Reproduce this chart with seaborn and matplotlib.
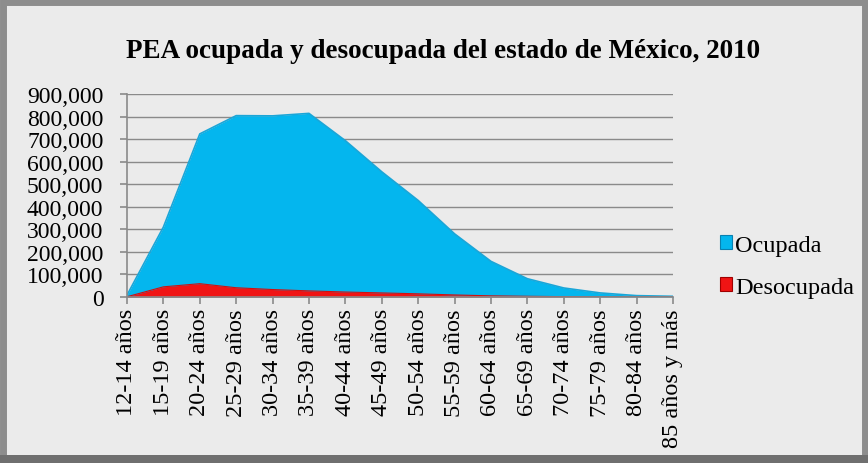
import numpy as np
import pandas as pd
import matplotlib
matplotlib.use("Agg")
import matplotlib.pyplot as plt
import matplotlib.patches as mpatches
from matplotlib.ticker import FuncFormatter
import seaborn as sns

# ----------------------------------------------------------------------
# Datos
# ----------------------------------------------------------------------
grupos = ["12-14 años", "15-19 años", "20-24 años", "25-29 años", "30-34 años",
          "35-39 años", "40-44 años", "45-49 años", "50-54 años", "55-59 años",
          "60-64 años", "65-69 años", "70-74 años", "75-79 años", "80-84 años",
          "85 años y más"]
ocupada = [8000, 310000, 723000, 804000, 803000, 814000, 693000, 555000,
           428000, 280000, 158000, 81000, 40000, 18000, 6000, 3000]
desocupada = [1000, 45000, 59000, 41000, 33000, 27000, 22000, 18000,
              14000, 9000, 5000, 3000, 1500, 600, 200, 100]

df = pd.DataFrame({"grupo": grupos, "Ocupada": ocupada, "Desocupada": desocupada})
df["pos"] = np.arange(len(df))

AZUL = "#04b6ee"
ROJO = "#f01414"
FONDO = "#ebebeb"

sns.set_theme(style="white")
plt.rcParams["font.family"] = ["Liberation Serif", "DejaVu Serif"]
plt.rcParams["text.color"] = "black"

fig = plt.figure(figsize=(8.68, 4.64), dpi=100)
fig.patch.set_facecolor(FONDO)
ax = fig.add_axes([0.1463, 0.3578, 0.6290, 0.4375])
ax.set_facecolor("none")

# areas (Ocupada detras, Desocupada delante)
ax.fill_between(df["pos"], df["Ocupada"], color=AZUL, zorder=2, lw=0)
sns.lineplot(data=df, x="pos", y="Ocupada", ax=ax, color="#1aa6d8", lw=1.2, zorder=3)
ax.fill_between(df["pos"], df["Desocupada"], color=ROJO, zorder=4, lw=0)
sns.lineplot(data=df, x="pos", y="Desocupada", ax=ax, color="#d01010", lw=0.8, zorder=5)

ax.set_xlim(0, len(df) - 1)
ax.set_ylim(0, 900000)
ax.set_yticks(np.arange(0, 900001, 100000))
ax.yaxis.set_major_formatter(FuncFormatter(lambda v, p: f"{int(v):,}"))
ax.set_xticks(df["pos"])
ax.set_xticklabels(df["grupo"], rotation=90)
ax.set_xlabel("")
ax.set_ylabel("")

ax.grid(axis="y", color="#8a8a8a", lw=1.0, zorder=1)
ax.grid(axis="x", visible=False)
ax.set_axisbelow(True)
for s in ["top", "right"]:
    ax.spines[s].set_visible(False)
for s in ["left", "bottom"]:
    ax.spines[s].set_color("#8a8a8a")
    ax.spines[s].set_linewidth(1.2)
    ax.spines[s].set_zorder(6)
ax.tick_params(axis="both", which="major", colors="#8a8a8a", labelcolor="black",
               width=1.2, direction="out")
ax.tick_params(axis="y", left=True, length=5, pad=12, labelsize=17)
ax.tick_params(axis="x", bottom=True, length=5, pad=3, labelsize=17.5)

fig.text(0.510, 0.890, "PEA ocupada y desocupada del estado de México, 2010",
         ha="center", va="center", fontsize=19.5, fontweight="bold", color="black")

handles = [mpatches.Patch(facecolor=AZUL, edgecolor="#0a80b0", lw=0.8, label="Ocupada"),
           mpatches.Patch(facecolor=ROJO, edgecolor="#a00000", lw=0.8, label="Desocupada")]
fig.legend(handles=handles, loc="center left", bbox_to_anchor=(0.829, 0.424),
           frameon=False, fontsize=17.5, handlelength=0.5, handleheight=0.5,
           handletextpad=0.15, labelspacing=0.85, borderaxespad=0, borderpad=0,
           labelcolor="black")

# marco
fig.patches.append(mpatches.Rectangle((0.004, 0.008), 0.992, 0.985, transform=fig.transFigure,
                                      fill=False, edgecolor="#8d8d8d", lw=5))
fig.patches.append(mpatches.Rectangle((0.0, 0.0), 1.0, 0.018, transform=fig.transFigure,
                                      facecolor="#6f6f6f", edgecolor="none"))

fig.savefig("out.png", dpi=100, facecolor=fig.get_facecolor())
